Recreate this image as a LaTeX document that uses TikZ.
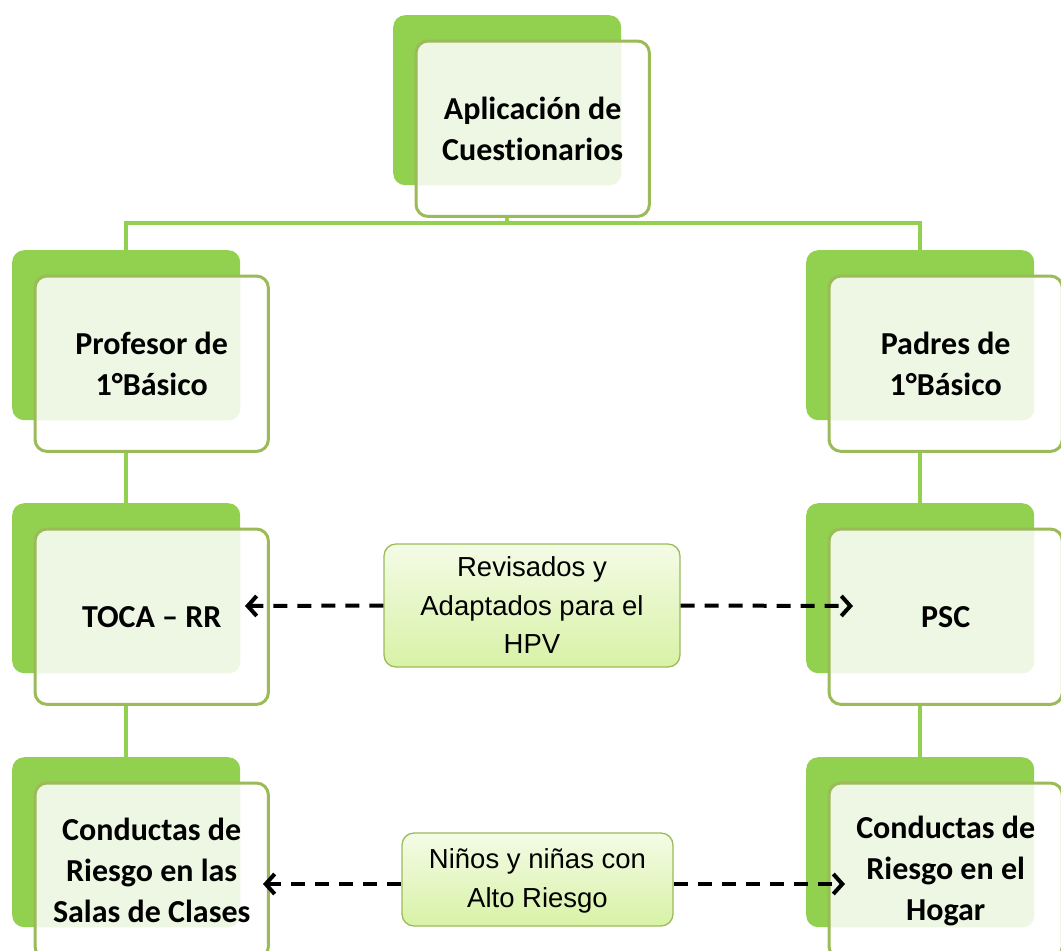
\documentclass[tikz,border=0pt]{standalone}
\usepackage{fontspec}
\setmainfont[Ligatures=NoCommon,RawFeature={-liga;-dlig}]{Carlito}
\newfontfamily\labfont{Liberation Sans}
\usetikzlibrary{arrows.meta,backgrounds}
\definecolor{backgreen}{HTML}{92D050}
\definecolor{framegreen}{HTML}{9BBB59}
\definecolor{tintgreen}{HTML}{EDF7E3}
\definecolor{labtop}{HTML}{F4FBE6}
\definecolor{labbot}{HTML}{D8F2A6}
\tikzset{
  backbox/.style={fill=backgreen, draw=none, rounded corners=12pt, minimum width=228pt, minimum height=170pt, inner sep=0pt, anchor=north west},
  frontbox/.style={fill=white, draw=none, rounded corners=12pt, minimum width=233pt, minimum height=175pt, inner sep=0pt, anchor=north west},
  frameline/.style={draw=framegreen, line width=3pt, rounded corners=12pt},
  boxtext/.style={font=\fontsize{32}{41}\selectfont\bfseries, align=center, text=black},
  labbox/.style={rounded corners=12pt, draw=framegreen, line width=1.3pt, top color=labtop, bottom color=labbot, inner sep=0pt},
  labtext/.style={font=\labfont\fontsize{27.5}{38.5}\selectfont, align=center, inner sep=0pt},
  conn/.style={draw=backgreen, line width=3.5pt},
  darrow/.style={line width=4pt, dash pattern=on 14pt off 10pt, -{Straight Barb[length=9pt,width=20pt]}}
}
\newcommand{\boxpair}[4]{%
  \node[backbox] (#1b) at (#2,#3) {};
  \node[frontbox] (#1) at (#2+23,#3+26) {};
  \begin{scope}
    \clip[rounded corners=12pt] (#1.north west) rectangle (#1.south east);
    \fill[tintgreen, rounded corners=12pt] (#1b.north west) rectangle (#1b.south east);
  \end{scope}
  \draw[frameline] (#1.north west) rectangle (#1.south east);
  \node[boxtext] (#1t) at (#1.center) {#4};
}
\begin{document}
\begin{tikzpicture}[x=1pt,y=-1pt]
\useasboundingbox (0,0) rectangle (1061,951);
\clip (0,0) rectangle (1061,951);

\boxpair{top}{393}{15}{Aplicación de\\Cuest\kern0pt ionarios}
\boxpair{lA}{12}{250}{Profesor de\\1°Básico}
\boxpair{rA}{806}{250}{Padres de\\1°Básico}
\boxpair{lB}{12}{503}{TOCA – RR}
\boxpair{rB}{806}{503}{PSC}
\boxpair{lC}{12}{757}{Conductas de\\Riesgo en las\\Salas de Clases}
\boxpair{rC}{806}{757}{Conductas de\\Riesgo en el\\Hogar}

\coordinate (bus) at (0,223);
\begin{scope}[on background layer]
  \draw[conn] (topb.center) -- (topb.center |- bus);
  \draw[conn] (lAb.center) -- (lAb.center |- bus) -- (rAb.center |- bus) -- (rAb.center);
  \draw[conn] (lAb.center) -- (lBb.center) -- (lCb.center);
  \draw[conn] (rAb.center) -- (rBb.center) -- (rCb.center);
\end{scope}

\node[labbox, minimum width=296pt, minimum height=123pt] (lab1) at (532,605.5) {};
\node[labtext] (lab1t) at (lab1.center) {Revisados y\\Adaptados para el\\HPV};
\node[labbox, minimum width=271pt, minimum height=93pt] (lab2) at (537.5,879.5) {};
\node[labtext] (lab2t) at (537.5,881) {Niños y niñas con\\Alto Riesgo};

\coordinate (a1l) at (245,606);
\coordinate (a1r) at (853,606);
\coordinate (a2l) at (263,884);
\coordinate (a2r) at (845,884);
\coordinate (lab2w) at (lab2.west |- a2l);
\coordinate (lab2e) at (lab2.east |- a2l);
\draw[darrow] (lab1.west) -- (a1l);
\draw[darrow] (lab1.east) -- (a1r);
\draw[darrow] (lab2w) -- (a2l);
\draw[darrow] (lab2e) -- (a2r);
\end{tikzpicture}
\end{document}
